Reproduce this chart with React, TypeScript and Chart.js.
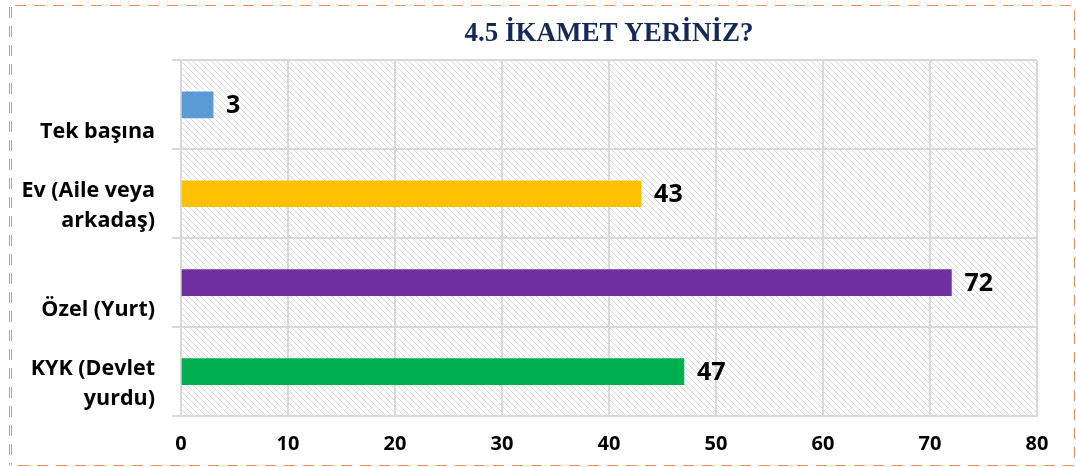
import React, { useEffect, useRef } from "react";
import { Chart, registerables } from "chart.js";

Chart.register(...registerables);

const categories: (string | string[])[] = [
  ["", "Tek başına"],
  ["Ev (Aile veya", "arkadaş)"],
  ["", "Özel (Yurt)"],
  ["KYK (Devlet", "yurdu)"],
];
const values = [3, 43, 72, 47];
const barColors = ["#5B9BD5", "#FFC000", "#7030A0", "#00B050"];
const titleText = "4.5 İKAMET YERİNİZ?";
const xMin = 0;
const xMax = 80;
const xStep = 10;

const SANS = "'Open Sans', 'Noto Sans', sans-serif";

function makeHatch(): CanvasPattern | string {
  const c = document.createElement("canvas");
  c.width = 6;
  c.height = 6;
  const g = c.getContext("2d");
  if (!g) return "#ffffff";
  g.fillStyle = "#ffffff";
  g.fillRect(0, 0, 6, 6);
  g.strokeStyle = "#dadada";
  g.lineWidth = 1;
  g.beginPath();
  g.moveTo(-1, -1);
  g.lineTo(7, 7);
  g.moveTo(-1, 5);
  g.lineTo(1, 7);
  g.moveTo(5, -1);
  g.lineTo(7, 1);
  g.stroke();
  const p = g.createPattern(c, "repeat");
  return p || "#ffffff";
}

const bgPlugin = {
  id: "hatchBg",
  beforeDraw(chart: any) {
    const { ctx, chartArea } = chart;
    ctx.save();
    ctx.fillStyle = "#ffffff";
    ctx.fillRect(0, 0, chart.width, chart.height);
    ctx.fillStyle = makeHatch();
    ctx.fillRect(chartArea.left, chartArea.top, chartArea.right - chartArea.left, chartArea.bottom - chartArea.top);
    ctx.restore();
  },
};

const framePlugin = {
  id: "frame",
  afterDraw(chart: any) {
    const { ctx } = chart;
    ctx.save();
    ctx.strokeStyle = "#F0915A";
    ctx.lineWidth = 1;
    ctx.setLineDash([11, 8]);
    ctx.beginPath();
    ctx.moveTo(15, 5.5);
    ctx.lineTo(1074.5, 5.5);
    ctx.lineTo(1074.5, 465.5);
    ctx.lineTo(11.5, 465.5);
    ctx.stroke();
    ctx.beginPath();
    ctx.moveTo(9.5, 7);
    ctx.lineTo(9.5, 465);
    ctx.moveTo(11.5, 7);
    ctx.lineTo(11.5, 465);
    ctx.stroke();
    ctx.restore();
  },
};

const valueLabelPlugin = {
  id: "valueLabels",
  afterDatasetsDraw(chart: any) {
    const { ctx } = chart;
    const meta = chart.getDatasetMeta(0);
    ctx.save();
    ctx.font = "bold 25px " + SANS;
    ctx.fillStyle = "#000000";
    ctx.textAlign = "left";
    ctx.textBaseline = "middle";
    meta.data.forEach((bar: any, i: number) => {
      ctx.fillText(String(values[i]), bar.x + 13, bar.y + 1);
    });
    ctx.restore();
  },
};

export default function App() {
  const ref = useRef<HTMLCanvasElement | null>(null);
  useEffect(() => {
    if (!ref.current) return;
    const chart = new Chart(ref.current, {
      type: "bar",
      data: {
        labels: categories,
        datasets: [
          {
            data: values,
            backgroundColor: barColors,
            barThickness: 26,
            borderWidth: 0,
          },
        ],
      },
      options: {
        indexAxis: "y",
        responsive: false,
        animation: false,
        layout: { padding: { left: 0, right: 39, top: 0, bottom: 8 } },
        plugins: {
          legend: { display: false },
          tooltip: { enabled: false },
          title: {
            display: true,
            text: titleText,
            fullSize: false,
            color: "#14285A",
            font: { family: "'Liberation Serif', serif", size: 27, weight: "bold" },
            padding: { top: 18, bottom: 10 },
          },
        },
        scales: {
          x: {
            min: xMin,
            max: xMax,
            afterFit(scale: any) {
              scale.height = 43;
            },
            ticks: {
              stepSize: xStep,
              color: "#000000",
              font: { family: SANS, size: 20, weight: "bold" },
              padding: 16,
            },
            grid: { color: "#d9d9d9", lineWidth: 2, drawTicks: false },
            border: { display: true, color: "#d9d9d9", width: 2 },
          },
          y: {
            afterFit(scale: any) {
              scale.width = 181;
            },
            ticks: {
              color: "#000000",
              font: { family: SANS, size: 21.5, weight: "bold", lineHeight: 1.4 },
              padding: 17,
              labelOffset: 12,
            },
            grid: { color: "#d9d9d9", lineWidth: 2, offset: true, drawTicks: true, tickLength: 9 },
            border: { display: true, color: "#d9d9d9", width: 2 },
          },
        },
      },
      plugins: [bgPlugin, valueLabelPlugin, framePlugin],
    } as any);
    return () => chart.destroy();
  }, []);
  return (
    <div style={{ position: "fixed", left: 0, top: 0, width: 1076, height: 467, background: "#fff" }}>
      <canvas ref={ref} width={1076} height={467} style={{ display: "block" }} />
    </div>
  );
}
